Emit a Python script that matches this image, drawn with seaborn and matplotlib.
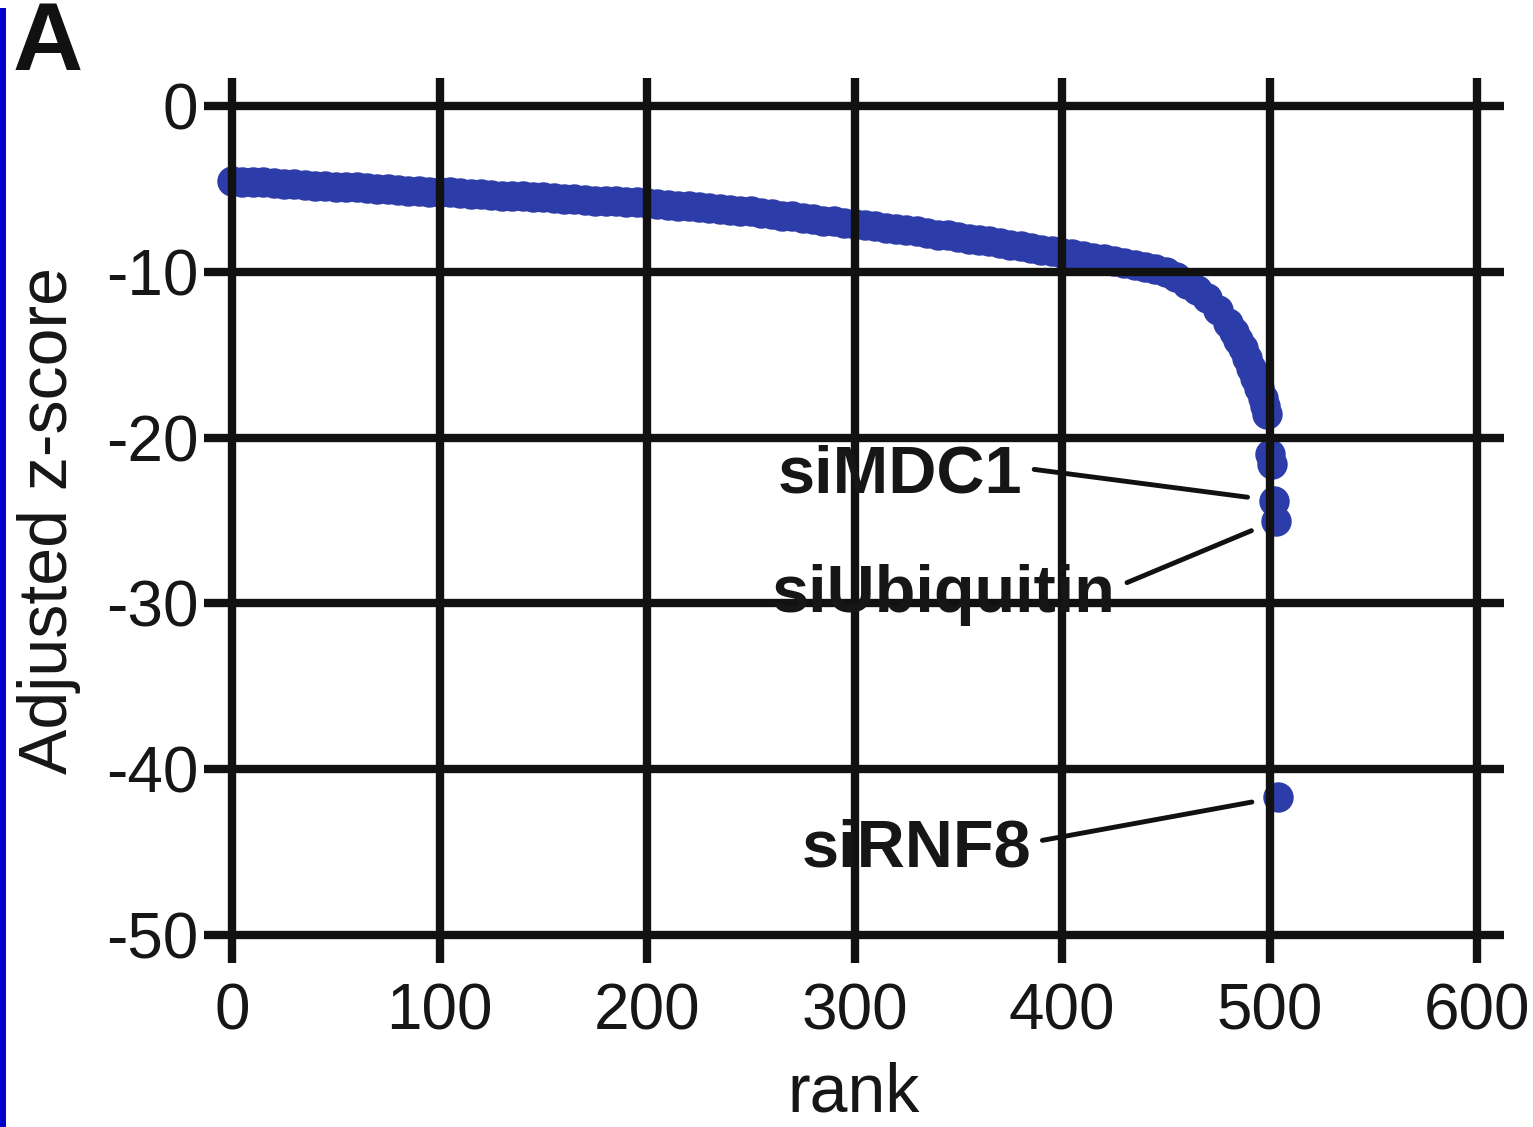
import numpy as np
import pandas as pd
import matplotlib
matplotlib.use('Agg')
import matplotlib.pyplot as plt
from matplotlib.patches import Rectangle
import seaborn as sns

# Ranked siRNA screen scores (sorted, descending)
ranks = [0, 5, 10, 15, 20, 25, 30, 35, 40, 45,
         50, 55, 60, 65, 70, 75, 80, 85, 90, 95,
         100, 105, 110, 115, 120, 125, 130, 135, 140, 145,
         150, 155, 160, 165, 170, 175, 180, 185, 190, 195,
         200, 205, 210, 215, 220, 225, 230, 235, 240, 245,
         250, 255, 260, 265, 270, 275, 280, 285, 290, 295,
         300, 305, 310, 315, 320, 325, 330, 335, 340, 345,
         350, 355, 360, 365, 370, 375, 380, 385, 390, 395,
         400, 405, 410, 415, 420, 425, 430, 435, 440, 445,
         450, 455, 460, 465, 470, 475, 480, 483, 485, 487,
         489, 491, 493, 495, 497, 498, 499, 500, 501, 502,
         503, 504]
zscores = [-4.5, -4.55, -4.6, -4.6, -4.65, -4.7, -4.7, -4.75, -4.8, -4.8,
           -4.85, -4.9, -4.9, -4.95, -5.0, -5.0, -5.05, -5.1, -5.1, -5.15,
           -5.2, -5.2, -5.25, -5.3, -5.3, -5.35, -5.4, -5.4, -5.45, -5.5,
           -5.5, -5.55, -5.6, -5.6, -5.65, -5.7, -5.7, -5.75, -5.8, -5.8,
           -5.85, -5.9, -5.95, -6.0, -6.05, -6.1, -6.15, -6.2, -6.25, -6.3,
           -6.35, -6.45, -6.5, -6.6, -6.65, -6.75, -6.8, -6.9, -6.95, -7.05,
           -7.1, -7.2, -7.25, -7.35, -7.4, -7.5, -7.55, -7.65, -7.75, -7.8,
           -7.9, -8.0, -8.05, -8.15, -8.25, -8.35, -8.45, -8.55, -8.65, -8.75,
           -8.85, -8.95, -9.05, -9.15, -9.25, -9.35, -9.45, -9.6, -9.7, -9.85,
           -10.0, -10.3, -10.7, -11.1, -11.6, -12.3, -13.1, -13.6, -14.1, -14.6,
           -15.2, -15.8, -16.4, -17.0, -17.6, -18.1, -18.6, -21.0, -21.6, -23.8,
           -25.0, -41.7]

# labelled hits: (name, rank of the point, text right end x, text baseline y)
hit_names = ['siMDC1', 'siUbiquitin', 'siRNF8']
hit_ranks = [502, 503, 504]
label_x = [381, 426, 385]
label_y = [-23.3, -30.5, -45.9]

xticks = [0, 100, 200, 300, 400, 500, 600]
yticks = [0, -10, -20, -30, -40, -50]

df = pd.DataFrame({'rank': ranks, 'z': zscores})

sns.set_style('white')
plt.rcParams['font.family'] = ['Liberation Sans', 'DejaVu Sans']
plt.rcParams['axes.unicode_minus'] = False

fig = plt.figure(figsize=(15.33, 11.27), dpi=100)
ax = fig.add_axes([0.1331, 0.1455, 0.848, 0.7853])

sns.scatterplot(data=df, x='rank', y='z', ax=ax, color='#2c3ca8',
                s=480, linewidth=0, alpha=1.0)

ax.set_xlim(-13.5, 613)
ax.set_ylim(-51.7, 1.7)
ax.set_xticks(xticks)
ax.set_yticks(yticks)
ax.set_xticklabels([str(t) for t in xticks])
ax.set_yticklabels([str(t) for t in yticks])
ax.tick_params(axis='both', length=0, labelsize=46, colors='#161616')
ax.tick_params(axis='x', pad=14)
ax.tick_params(axis='y', pad=4)

ax.set_axisbelow(False)
ax.grid(True, color='#111111', linewidth=6)
for sp in ax.spines.values():
    sp.set_visible(False)

ax.set_xlabel('rank', fontsize=49, color='#161616', labelpad=14)
ax.set_ylabel('Adjusted z-score', fontsize=49, color='#161616', labelpad=18)

zmap = dict(zip(ranks, zscores))
for name, r, tx, ty in zip(hit_names, hit_ranks, label_x, label_y):
    ax.annotate(name, xy=(r, zmap[r]), xytext=(tx, ty),
                fontsize=48, fontweight='bold', color='#161616',
                ha='right', va='baseline', zorder=5,
                arrowprops=dict(arrowstyle='-', color='#111111', lw=3.5,
                                relpos=(1.0, 0.62), shrinkA=6, shrinkB=19))

# panel letter and the blue bar at the left edge
fig.text(0.008, 1 - 70 / 1127, 'A', fontsize=70, fontweight='bold',
         color='#111111', va='baseline', ha='left')
fig.add_artist(Rectangle((0, 0), 6 / 1533, 1 - 8 / 1127,
                         transform=fig.transFigure, color='#0000cc', lw=0))

fig.savefig('out.png', dpi=100)
